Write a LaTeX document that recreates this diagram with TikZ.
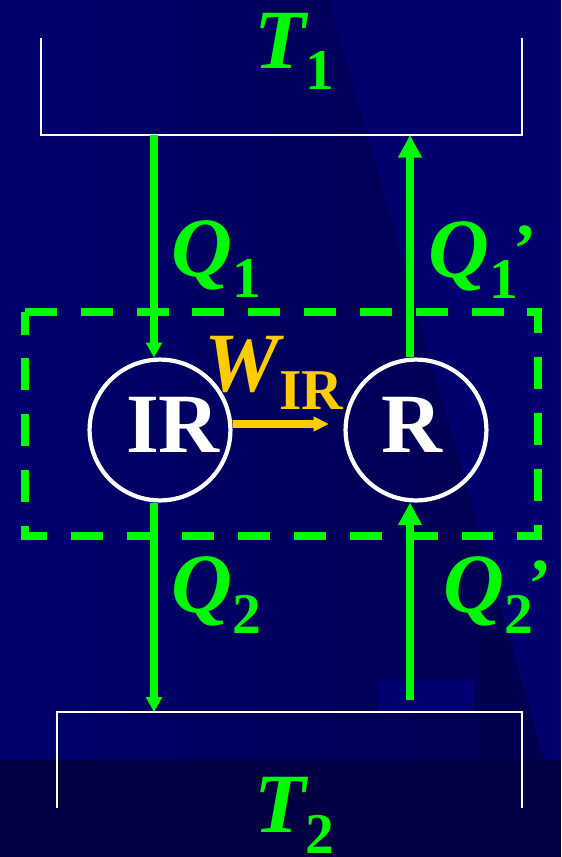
\documentclass[tikz,border=0pt]{standalone}
\usepackage{fontspec}
\setmainfont{Liberation Serif}
\usepackage{tikz}
\usetikzlibrary{arrows.meta, calc}
\definecolor{mynavy}{RGB}{0,0,110}
\definecolor{mywedge}{RGB}{0,0,80}
\definecolor{myband}{RGB}{0,0,66}
\definecolor{mypatch}{RGB}{0,0,116}
\definecolor{mygreen}{RGB}{0,250,0}
\definecolor{myorange}{RGB}{255,204,0}
% symbol with a lowered subscript
\newcommand{\bigsym}[3][15pt]{{\fontsize{60}{60}\selectfont\bfseries\itshape #2}\raisebox{-#1}{\fontsize{41}{41}\selectfont\bfseries #3}}
\newcommand{\bigprime}{\kern-3pt\raisebox{3pt}{\fontsize{50}{50}\selectfont\bfseries ’}}
\tikzset{
  reservoir/.style={draw=white, line width=1.8pt},
  engine/.style={circle, draw=white, line width=3pt,
    minimum size=3.52cm, inner sep=0pt},
  enginetext/.style={text=white, font=\fontsize{60}{60}\selectfont\bfseries,
    inner sep=0pt, anchor=base},
  heatlabel/.style={text=mygreen, inner sep=0pt, anchor=base west},
  worklabel/.style={text=myorange, inner sep=0pt, anchor=base west},
  heatarrow/.style={-{Triangle[width=16pt,length=16pt]}, draw=mygreen, line width=5.5pt},
  smallheatarrow/.style={-{Triangle[width=11pt,length=10.5pt]}, draw=mygreen, line width=5.5pt},
  workarrow/.style={-{Triangle[width=10pt,length=11pt]}, draw=myorange, line width=5.4pt},
  sysbox/.style={draw=mygreen, line width=5pt, dash pattern=on 22.7pt off 17pt}
}

\begin{document}
\begin{tikzpicture}[x=0.025cm, y=-0.025cm]
  \useasboundingbox (0,0) rectangle (561,857);

  % Background
  \fill[mynavy] (0,0) rectangle (561,857);
  \shade[left color=mynavy, right color=mywedge] (0,0) -- (329,0) -- (544,760) -- (0,760) -- cycle;
  \fill[myband] (0,760) rectangle (561,857);
  \fill[mypatch] (378,680) rectangle (474,711);

  % Reservoirs
  \draw[reservoir] (41,38) -- (41,135) -- (522,135) -- (522,38);
  \draw[reservoir] (57,808) -- (57,712) -- (522,712) -- (522,808);
  \coordinate (hotL) at (154,135);
  \coordinate (hotR) at (410,135);
  \coordinate (coldL) at (154,712);
  \coordinate (coldR) at (410,700);
  \node[heatlabel] (t1) at (254,68) {\bigsym{T}{1}};
  \node[heatlabel] (t2) at (254,832) {\bigsym{T}{2}};

  % Engines
  \node[engine] (ir) at (160,430) {};
  \node[engine] (r) at (416,430) {};
  \node[enginetext] (irtext) at (173,452) {IR};
  \node[enginetext] (rtext) at (412,452) {R};

  % System boundary
  \draw[sysbox] (25,312) -- (538,312) -- (538,536) -- (25,536) -- cycle;

  % Heat flows
  \draw[smallheatarrow] (hotL) -- (hotL |- ir.north);
  \draw[smallheatarrow] (coldL |- ir.south) -- (coldL);
  \draw[heatarrow] (hotR |- r.north) -- (hotR);
  \draw[heatarrow] (coldR) -- (coldR |- r.south);
  \node[heatlabel] (q1) at (171,276) {\bigsym{Q}{1}};
  \node[heatlabel] (q1p) at (428,277) {\bigsym{Q}{1}\bigprime};
  \node[heatlabel] (q2) at (171,612) {\bigsym{Q}{2}};
  \node[heatlabel] (q2p) at (443,612) {\bigsym{Q}{2}\bigprime};

  % Work
  \coordinate (wend) at (329,424);
  \draw[workarrow] ([yshift=4.3pt]ir.east) -- (wend);
  \node[worklabel] (wir) at (204,391) {\bigsym[13pt]{W}{IR}};
\end{tikzpicture}
\end{document}
